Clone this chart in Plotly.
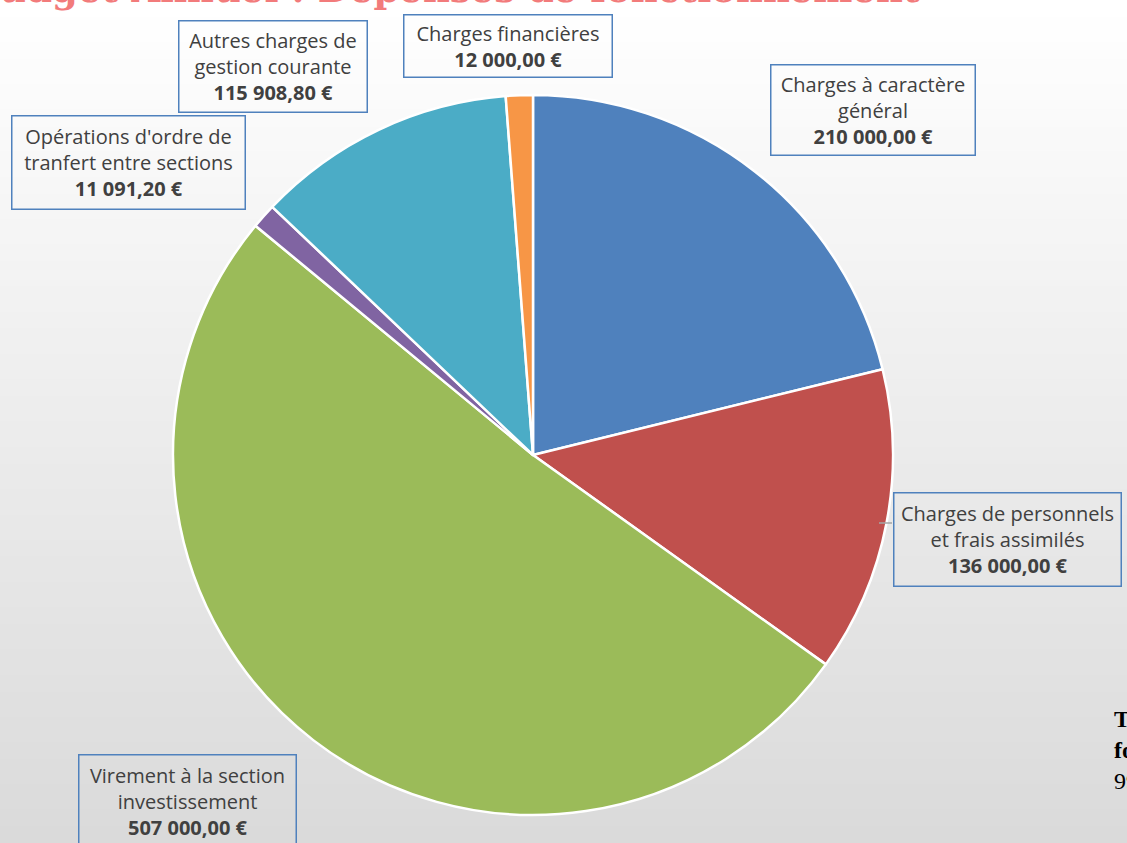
import plotly.graph_objects as go

W, H = 1127, 843

labels = ["Charges à caractère général", "Charges de personnels et frais assimilés",
          "Virement à la section investissement", "Opérations d'ordre de tranfert entre sections",
          "Autres charges de gestion courante", "Charges financières"]
label_lines = [["Charges à caractère", "général"],
               ["Charges de personnels", "et frais assimilés"],
               ["Virement à la section", "investissement"],
               ["Opérations d'ordre de", "tranfert entre sections"],
               ["Autres charges de", "gestion courante"],
               ["Charges financières"]]
values = [210000.00, 136000.00, 507000.00, 11091.20, 115908.80, 12000.00]
value_text = ["210 000,00 €", "136 000,00 €", "507 000,00 €", "11 091,20 €", "115 908,80 €", "12 000,00 €"]
colors = ["#4f81bd", "#c0504d", "#9bbb59", "#8064a2", "#4bacc6", "#f79646"]

title_text = "Budget Annuel : Dépenses de fonctionnement"
side_text = ["Total", "fonctionnement :", "992 000,00 €"]

# label boxes in pixels: (x0, y0, x1, y1)
boxes = [(769, 64, 976, 157), (892, 491, 1122, 587), (77, 753, 297, 849),
         (10, 115, 246, 211), (177, 20, 368, 114), (402, 14, 613, 79)]

def px(x):
    return x / W

def py(y):
    return 1 - y / H

fig = go.Figure()

# gradient background
n = 100
shapes = []
for i in range(n):
    t = i / (n - 1)
    c = 255 - t * (255 - 218)
    shapes.append(dict(type="rect", xref="paper", yref="paper", x0=0, x1=1,
                       y0=1 - (i + 1) / n - 0.002, y1=1 - i / n, layer="below",
                       line=dict(width=0), fillcolor=f"rgb({c:.1f},{c:.1f},{c:.1f})"))
# leader line
shapes.append(dict(type="line", xref="paper", yref="paper", x0=px(879), x1=px(892),
                   y0=py(523), y1=py(523), line=dict(color="#a6a6a6", width=1.5)))

cx0, cx1, cy0, cy1 = 173, 893, 95, 815
fig.add_trace(go.Pie(
    labels=labels, values=values, sort=False, direction="clockwise", rotation=0,
    marker=dict(colors=colors, line=dict(color="white", width=2.5)),
    textinfo="none", hoverinfo="label+value+percent", showlegend=False,
    domain=dict(x=[px(cx0), px(cx1)], y=[py(cy1), py(cy0)]),
))

annotations = []
for lines, vt, (x0, y0, x1, y1) in zip(label_lines, value_text, boxes):
    txt = "<br>".join(lines) + "<br><b>" + vt + "</b>"
    annotations.append(dict(
        xref="paper", yref="paper", x=px((x0 + x1) / 2), y=py((y0 + y1) / 2),
        xanchor="center", yanchor="middle", text=txt, showarrow=False,
        align="center", valign="middle", width=x1 - x0 - 4, height=y1 - y0 - 4,
        borderpad=0, bordercolor="#4f81bd", borderwidth=1.5,
        font=dict(family="Open Sans, sans-serif", size=20, color="#404040"),
    ))

annotations.append(dict(
    xref="paper", yref="paper", x=px(-34), y=py(13), xanchor="left", yanchor="bottom",
    text="<b>" + title_text + "</b>", showarrow=False,
    font=dict(family="DejaVu Serif, serif", size=37, color="#f27b7b"),
))
annotations.append(dict(
    xref="paper", yref="paper", x=px(1112), y=py(704), xanchor="left", yanchor="top",
    text="<b>" + side_text[0] + "<br>" + side_text[1] + "</b><br>" + side_text[2],
    showarrow=False, align="left",
    font=dict(family="Liberation Serif, serif", size=24, color="#000000"),
))

fig.update_layout(
    width=W, height=H, margin=dict(l=0, r=0, t=0, b=0),
    paper_bgcolor="white", shapes=shapes, annotations=annotations,
)

fig.write_html("out.html", config={"displayModeBar": False},
               post_script="document.body.style.margin='0';document.body.style.overflow='hidden';")
